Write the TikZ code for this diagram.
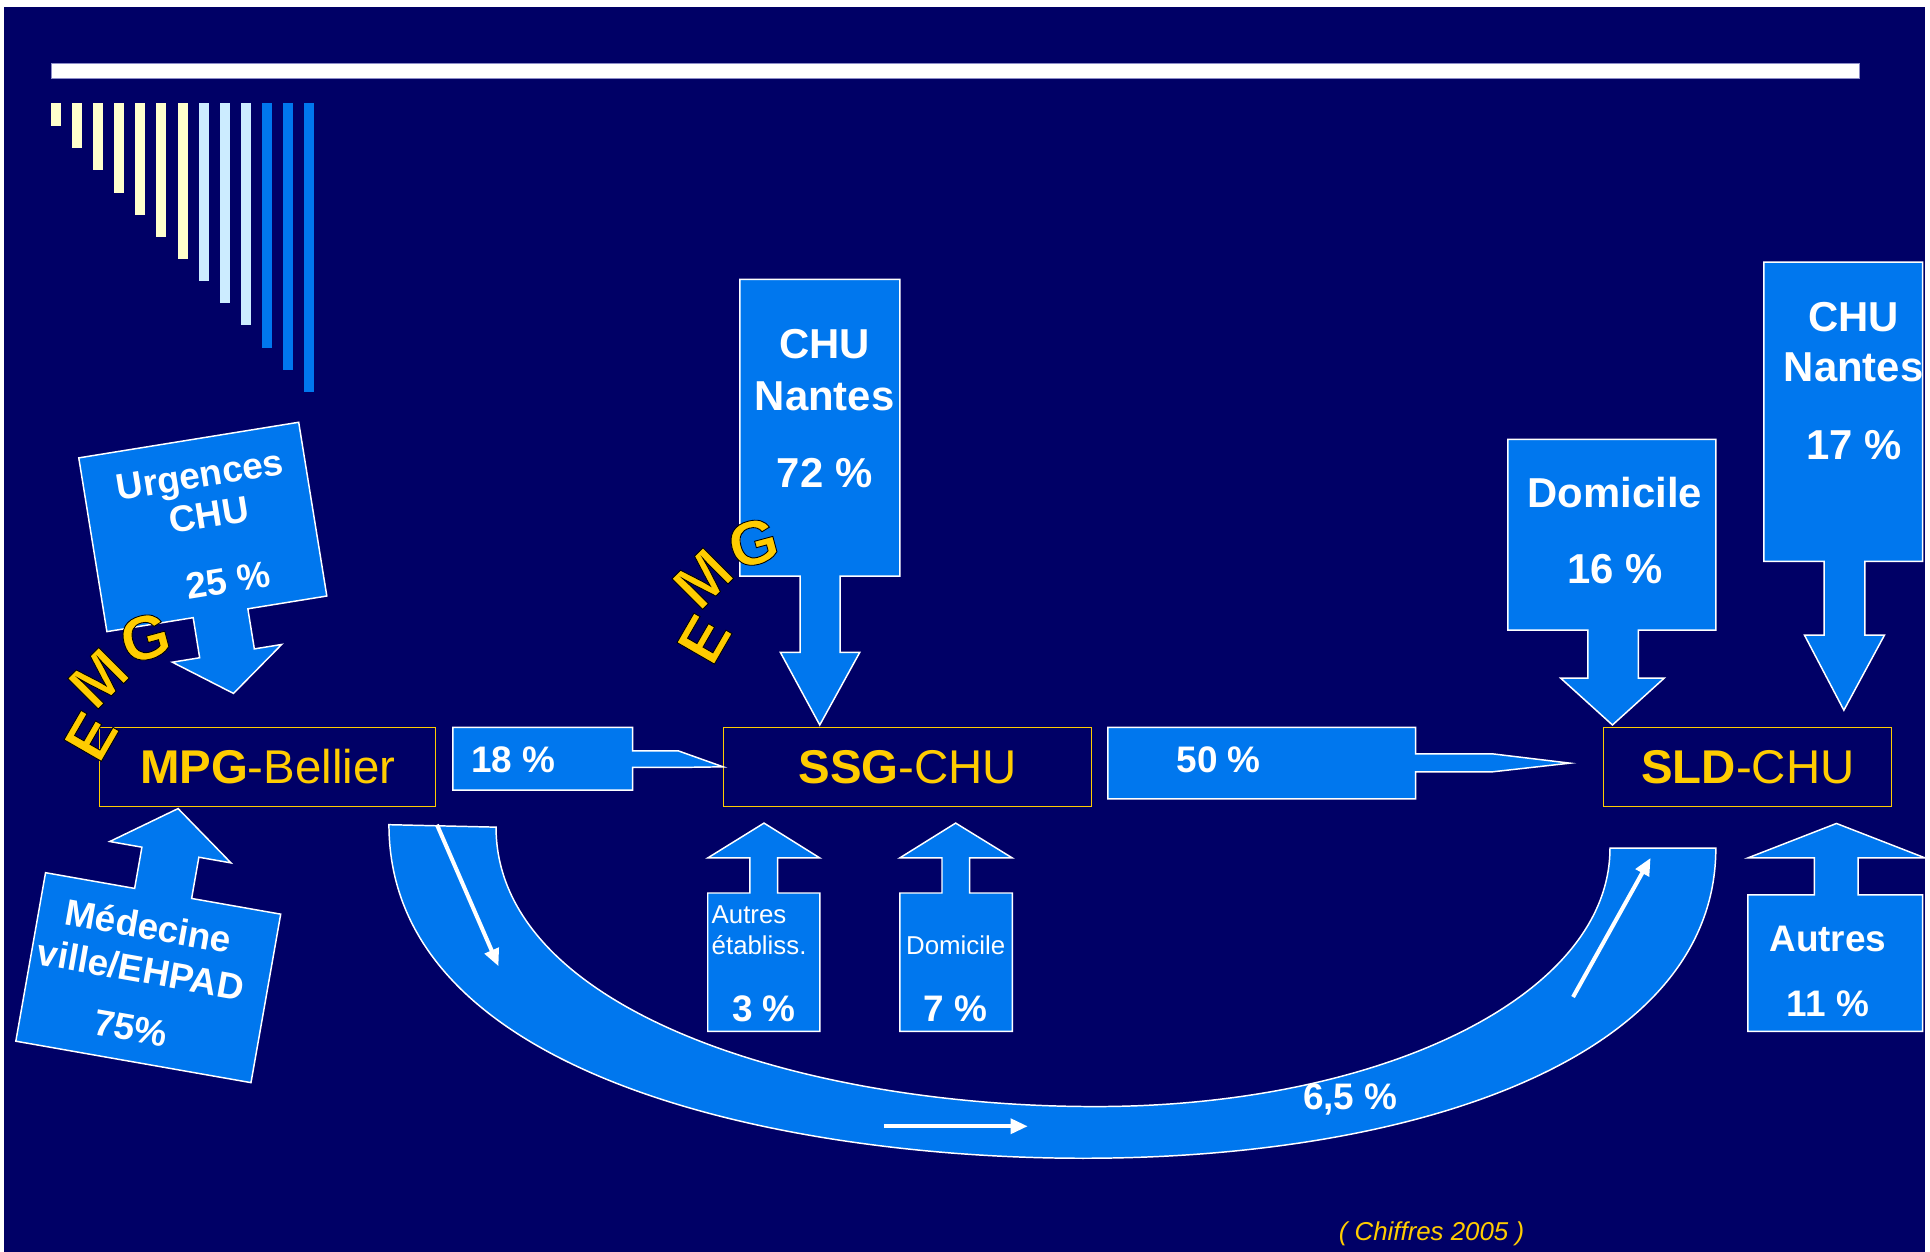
\documentclass[tikz,border=0pt]{standalone}
\usepackage{fontspec}
\setmainfont{Liberation Sans}
\newfontfamily\emgfont[FakeBold=1.4]{Liberation Sans Bold}
\usetikzlibrary{arrows.meta}
\definecolor{navy}{RGB}{0,0,102}
\definecolor{flowblue}{RGB}{0,119,238}
\definecolor{emgyellow}{RGB}{255,204,0}
\definecolor{paleyellow}{RGB}{255,255,204}
\definecolor{paleblue}{RGB}{204,236,255}
\definecolor{lavender}{RGB}{140,140,200}
\newcommand{\emgletter}[1]{\special{pdf:literal direct 0 0 0 RG}#1}

\begin{document}
\begin{tikzpicture}[x=1pt,y=-1pt,
  flow/.style={fill=flowblue,draw=white,line width=1.2pt},
  site/.style={draw=emgyellow,line width=1pt,minimum height=64pt,inner sep=0pt,
    text=emgyellow,font=\fontsize{38.5}{40}\selectfont,text height=27.6pt,text depth=0pt},
  big/.style={text=white,inner sep=0pt,font=\bfseries\fontsize{34}{36}\selectfont,
    text height=24.3pt,text depth=0pt},
  mid/.style={text=white,inner sep=0pt,font=\bfseries\fontsize{30}{32}\selectfont,
    text height=21.5pt,text depth=0pt},
  small/.style={text=white,inner sep=0pt,font=\fontsize{21}{23}\selectfont,
    text height=15pt,text depth=0pt},
  emg/.style={text=emgyellow,inner sep=0pt,font=\emgfont\fontsize{51}{51}\selectfont},
  flowtip/.style={white,line width=3.3pt,-{Triangle[length=14pt,width=12pt]}}]
  \useasboundingbox (0,0) rectangle (1568,1017);
  \fill[white] (0,0) rectangle (1568,1017);
  \fill[navy] (3,6) rectangle (1564,1017);
  \begin{scope}
  \clip (3,6) rectangle (1564,1017);

  % title rule and bars
  \fill[white,draw=lavender,line width=0.6pt] (42,51.5) rectangle (1511,64);
  \foreach \i/\c in {0/paleyellow,1/paleyellow,2/paleyellow,3/paleyellow,4/paleyellow,
      5/paleyellow,6/paleyellow,7/paleblue,8/paleblue,9/paleblue,10/flowblue,11/flowblue,12/flowblue}{
    \fill[\c] (41.4+17.14*\i,83.5) rectangle (49.5+17.14*\i,102.4+18*\i);
  }

  % return flow MPG -> SLD
  \path[flow] (316,670) .. controls (316,880) and (650,941) .. (880,941)
    .. controls (1150,941) and (1394,860) .. (1394,689) -- (1308,689)
    .. controls (1308,810) and (1120,899) .. (890,899)
    .. controls (650,899) and (403,820) .. (403,672) -- cycle;
  \coordinate (r1a) at (355,670);
  \coordinate (r1b) at (405,785);
  \coordinate (r2a) at (718,915);
  \coordinate (r2b) at (835,915);
  \coordinate (r3a) at (1278,810);
  \coordinate (r3b) at (1341,697);
  \draw[flowtip] (r1a) -- (r1b);
  \draw[flowtip] (r2a) -- (r2b);
  \draw[flowtip] (r3a) -- (r3b);
  \node[mid] (ret) at (1097,891) {6,5 \%};

  % sites
  \node[site,minimum width=273pt] (mpg) at (217.5,623) {\textbf{MPG}-Bellier};
  \node[site,minimum width=299pt] (ssg) at (737.5,623) {\textbf{SSG}-CHU};
  \node[site,minimum width=234pt] (sld) at (1420,623) {\textbf{SLD}-CHU};

  % MPG -> SSG, SSG -> SLD
  \path[flow] (368,591) -- (514,591) -- (514,610) -- (551,610) -- (ssg.west)
    -- (551,623.5) -- (514,623.5) -- (514,642) -- (368,642) -- cycle;
  \node[mid] (p18) at (417,617) {18 \%};
  \path[flow] (900,591) -- (1150,591) -- (1150,612.5) -- (1213,612.5) -- (1275.5,620)
    -- (1213,627) -- (1150,627) -- (1150,649) -- (900,649) -- cycle;
  \node[mid] (p50) at (990,617) {50 \%};

  % entries into MPG
  \begin{scope}[shift={(64,372)},rotate=9.2]
    \path[flow] (0,0) -- (181,0) -- (181,143) -- (116,143) -- (116,176) -- (138.5,176)
      -- (93.5,209) -- (48.5,176) -- (71,176) -- (71,143) -- (0,143) -- cycle;
    \node[mid,transform shape] (urg1) at (95,29) {Urgences};
    \node[mid,transform shape] (urg2) at (97,62) {CHU};
    \node[mid,transform shape] (urg3) at (104,117) {25 \%};
  \end{scope}
  \begin{scope}[shift={(37,709)},rotate=-10]
    \path[flow] (0,0) -- (73.5,0) -- (73.5,-34) -- (47,-34) -- (97,-70) -- (147,-34)
      -- (120.5,-34) -- (120.5,0) -- (194,0) -- (194,139) -- (0,139) -- cycle;
    \node[mid,transform shape] (med1) at (90,28) {Médecine};
    \node[mid,transform shape] (med2) at (90,64) {ville/EHPAD};
    \node[mid,transform shape] (med3) at (90,112) {75\%};
  \end{scope}

  % entries into SSG
  \path[flow] (601,227) -- (731,227) -- (731,468) -- (682.5,468) -- (682.5,530)
    -- (698.5,530) -- (666,589) -- (634,530) -- (650,530) -- (650,468) -- (601,468) -- cycle;
  \node[big] (chu1) at (670,279) {CHU};
  \node[big] (chu2) at (670,321) {Nantes};
  \node[big] (chu3) at (670,384) {72 \%};
  \path[flow] (575,838) -- (575,725.5) -- (609.3,725.5) -- (609.3,697) -- (575,697)
    -- (620.7,668.7) -- (666,697) -- (631.8,697) -- (631.8,725.5) -- (666,725.5) -- (666,838) -- cycle;
  \node[small,anchor=west] (aut1) at (578,743) {Autres};
  \node[small,anchor=west] (aut2) at (578,768) {établiss.};
  \node[mid] (aut3) at (620.7,819) {3 \%};
  \path[flow] (731,838) -- (731,725.5) -- (765.3,725.5) -- (765.3,697) -- (731,697)
    -- (776.4,668.7) -- (822.4,697) -- (787.8,697) -- (787.8,725.5) -- (822.4,725.5) -- (822.4,838) -- cycle;
  \node[small] (dom1) at (776.4,768) {Domicile};
  \node[mid] (dom2) at (776.4,819) {7 \%};

  % entries into SLD
  \path[flow] (1225,357) -- (1394,357) -- (1394,512) -- (1331,512) -- (1331,551)
    -- (1352,551) -- (1310,589) -- (1268,551) -- (1290,551) -- (1290,512) -- (1225,512) -- cycle;
  \node[big] (home1) at (1312,400) {Domicile};
  \node[big] (home2) at (1312,462) {16 \%};
  \path[flow] (1433,213) -- (1562,213) -- (1562,456) -- (1515,456) -- (1515,516)
    -- (1531,516) -- (1498,577) -- (1466,516) -- (1482,516) -- (1482,456) -- (1433,456) -- cycle;
  \node[big] (nte1) at (1506,257) {CHU};
  \node[big] (nte2) at (1506,298) {Nantes};
  \node[big] (nte3) at (1506,361) {17 \%};
  \path[flow] (1420,838) -- (1420,727) -- (1474,727) -- (1474,697) -- (1420,697)
    -- (1492,669) -- (1564,697) -- (1509.5,697) -- (1509.5,727) -- (1562,727) -- (1562,838) -- cycle;
  \node[mid] (oth1) at (1485,762) {Autres};
  \node[mid] (oth2) at (1485,815) {11 \%};

  % EMG
  \node[emg,rotate=60] (e1) at (74,598) {\emgletter{E}};
  \node[emg,rotate=45] (m1) at (80,551) {\emgletter{M}};
  \node[emg,rotate=15] (g1) at (118,518) {\emgletter{G}};
  \node[emg,rotate=60] (e2) at (572,519) {\emgletter{E}};
  \node[emg,rotate=45] (m2) at (571,470) {\emgletter{M}};
  \node[emg,rotate=15] (g2) at (612,441) {\emgletter{G}};

  \node[text=emgyellow,inner sep=0pt,font=\itshape\fontsize{21}{23}\selectfont] (src) at (1163,1002) {( Chiffres 2005 )};
  \end{scope}
\end{tikzpicture}
\end{document}
